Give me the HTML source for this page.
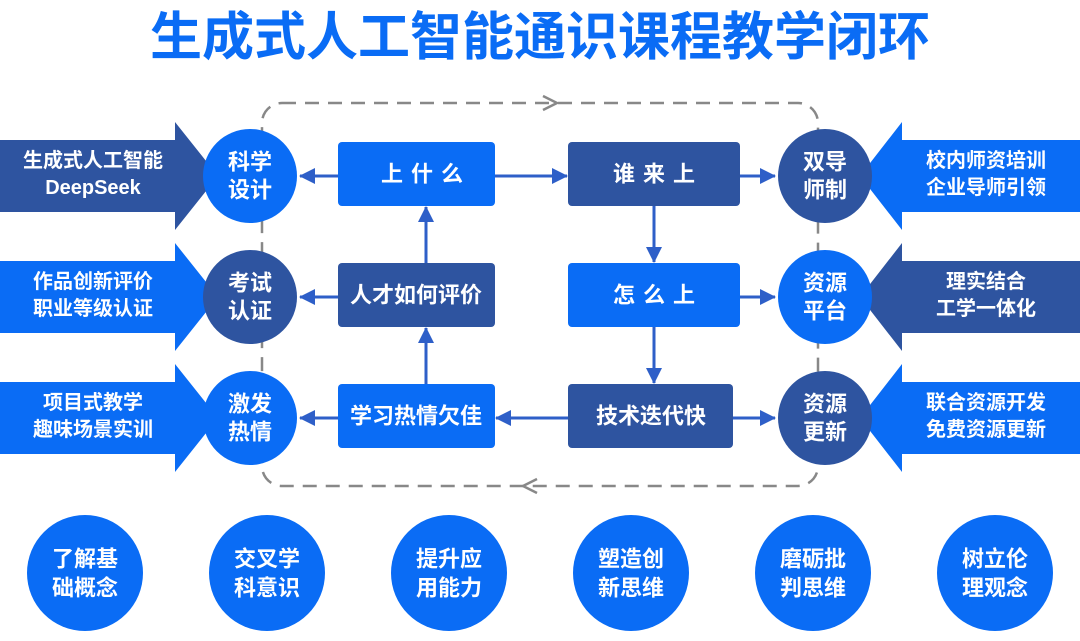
<!DOCTYPE html>
<html><head><meta charset="utf-8"><style>
html,body{margin:0;padding:0;background:#fff;}
svg{display:block;}
text{font-family:"Liberation Sans","Noto Sans CJK SC",sans-serif;font-weight:bold;fill:#fff;text-anchor:middle;dominant-baseline:central;}
</style></head><body>
<svg width="1080" height="641" viewBox="0 0 1080 641">
<defs>
<marker id="am" markerWidth="16" markerHeight="16" refX="15" refY="8" orient="auto" markerUnits="userSpaceOnUse"><path d="M0,0 L16,8 L0,16Z" fill="#2e5fc8"/></marker>
</defs>
<text x="540" y="38" font-size="52" style="fill:#0a6cf5">生成式人工智能通识课程教学闭环</text>
<rect x="262" y="103" width="556" height="383" rx="20" fill="none" stroke="#888" stroke-width="2.5" stroke-dasharray="14,9"/>
<path d="M543,96 L557,103 L543,110" fill="none" stroke="#888" stroke-width="2.5"/>
<path d="M537,479 L523,486 L537,493" fill="none" stroke="#888" stroke-width="2.5"/>
<polygon points="0,140 175,140 175,122 218,176 175,230 175,212 0,212" fill="#2e54a0"/>
<polygon points="0,261 175,261 175,243 218,297 175,351 175,333 0,333" fill="#0a6cf5"/>
<polygon points="0,382 175,382 175,364 218,418 175,472 175,454 0,454" fill="#0a6cf5"/>
<polygon points="1080,140 902,140 902,122 860,176 902,230 902,212 1080,212" fill="#0a6cf5"/>
<polygon points="1080,261 902,261 902,243 860,297 902,351 902,333 1080,333" fill="#2e54a0"/>
<polygon points="1080,382 902,382 902,364 860,418 902,472 902,454 1080,454" fill="#0a6cf5"/>
<g font-size="20">
<text x="93" y="161">生成式人工智能</text><text x="93" y="188">DeepSeek</text>
<text x="93" y="282">作品创新评价</text><text x="93" y="309">职业等级认证</text>
<text x="93" y="403">项目式教学</text><text x="93" y="430">趣味场景实训</text>
<text x="986" y="161">校内师资培训</text><text x="986" y="188">企业导师引领</text>
<text x="986" y="282">理实结合</text><text x="986" y="309">工学一体化</text>
<text x="986" y="403">联合资源开发</text><text x="986" y="430">免费资源更新</text>
</g>
<circle cx="250" cy="176" r="47" fill="#0a6cf5"/><text x="250" y="162" font-size="22">科学</text><text x="250" y="190" font-size="22">设计</text>
<circle cx="250" cy="297" r="47" fill="#2e54a0"/><text x="250" y="283" font-size="22">考试</text><text x="250" y="311" font-size="22">认证</text>
<circle cx="250" cy="418" r="47" fill="#0a6cf5"/><text x="250" y="404" font-size="22">激发</text><text x="250" y="432" font-size="22">热情</text>
<circle cx="825" cy="176" r="47" fill="#2e54a0"/><text x="825" y="162" font-size="22">双导</text><text x="825" y="190" font-size="22">师制</text>
<circle cx="825" cy="297" r="47" fill="#0a6cf5"/><text x="825" y="283" font-size="22">资源</text><text x="825" y="311" font-size="22">平台</text>
<circle cx="825" cy="418" r="47" fill="#2e54a0"/><text x="825" y="404" font-size="22">资源</text><text x="825" y="432" font-size="22">更新</text>
<g stroke="#2e5fc8" stroke-width="3" fill="none">
<line x1="338" y1="176" x2="300" y2="176" marker-end="url(#am)"/>
<line x1="338" y1="297" x2="300" y2="297" marker-end="url(#am)"/>
<line x1="338" y1="418" x2="300" y2="418" marker-end="url(#am)"/>
<line x1="495" y1="176" x2="567" y2="176" marker-end="url(#am)"/>
<line x1="740" y1="176" x2="775" y2="176" marker-end="url(#am)"/>
<line x1="740" y1="297" x2="775" y2="297" marker-end="url(#am)"/>
<line x1="733" y1="418" x2="775" y2="418" marker-end="url(#am)"/>
<line x1="654" y1="206" x2="654" y2="262" marker-end="url(#am)"/>
<line x1="654" y1="327" x2="654" y2="383" marker-end="url(#am)"/>
<line x1="568" y1="418" x2="496" y2="418" marker-end="url(#am)"/>
<line x1="426" y1="384" x2="426" y2="328" marker-end="url(#am)"/>
<line x1="426" y1="263" x2="426" y2="207" marker-end="url(#am)"/>
</g>
<rect x="338" y="142" width="157" height="64" rx="4" fill="#0a6cf5"/><text x="426" y="174" font-size="22" letter-spacing="8">上什么</text>
<rect x="338" y="263" width="157" height="64" rx="4" fill="#2e54a0"/><text x="416" y="295" font-size="22">人才如何评价</text>
<rect x="338" y="384" width="157" height="64" rx="4" fill="#0a6cf5"/><text x="416" y="416" font-size="22">学习热情欠佳</text>
<rect x="568" y="142" width="172" height="64" rx="4" fill="#2e54a0"/><text x="658" y="174" font-size="22" letter-spacing="8">谁来上</text>
<rect x="568" y="263" width="172" height="64" rx="4" fill="#0a6cf5"/><text x="658" y="295" font-size="22" letter-spacing="8">怎么上</text>
<rect x="568" y="384" width="165" height="64" rx="4" fill="#2e54a0"/><text x="651" y="416" font-size="22">技术迭代快</text>
<g font-size="22">
<circle cx="85" cy="573" r="58" fill="#0a6cf5"/><text x="85" y="559">了解基</text><text x="85" y="588">础概念</text>
<circle cx="267" cy="573" r="58" fill="#0a6cf5"/><text x="267" y="559">交叉学</text><text x="267" y="588">科意识</text>
<circle cx="449" cy="573" r="58" fill="#0a6cf5"/><text x="449" y="559">提升应</text><text x="449" y="588">用能力</text>
<circle cx="631" cy="573" r="58" fill="#0a6cf5"/><text x="631" y="559">塑造创</text><text x="631" y="588">新思维</text>
<circle cx="813" cy="573" r="58" fill="#0a6cf5"/><text x="813" y="559">磨砺批</text><text x="813" y="588">判思维</text>
<circle cx="995" cy="573" r="58" fill="#0a6cf5"/><text x="995" y="559">树立伦</text><text x="995" y="588">理观念</text>
</g>
</svg>
</body></html>
